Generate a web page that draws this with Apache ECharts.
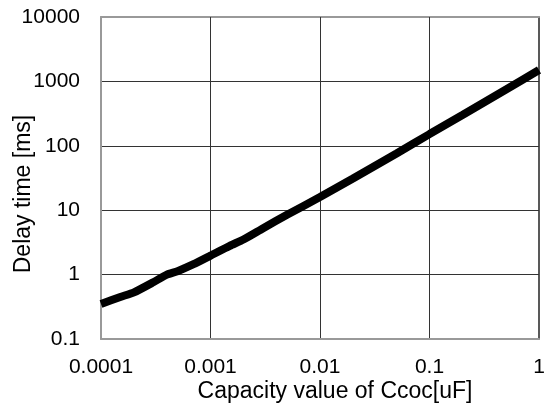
<!DOCTYPE html>
<html><head><meta charset="utf-8">
<script src="https://cdn.jsdelivr.net/npm/echarts@6/dist/echarts.min.js"></script>
<style>html,body{margin:0;padding:0;background:#fff}#c{width:547px;height:414px}</style>
</head><body><div id="c"></div>
<script>
const capacity = [0.0001, 0.00015, 0.0002, 0.0003, 0.0004, 0.0005, 0.0007, 0.001, 0.0015, 0.002, 0.003, 0.005, 0.01, 0.02, 0.05, 0.1, 0.2, 0.5, 1];
const delay    = [0.35, 0.45, 0.53, 0.76, 1.0, 1.13, 1.45, 1.97, 2.8, 3.5, 5.2, 8.5, 16, 31, 76, 152, 300, 750, 1500];
const xTickLabels = ['0.0001', '0.001', '0.01', '0.1', '1'];
const yTickLabels = ['0.1', '1', '10', '100', '1000', '10000'];
const xTitle = 'Capacity value of Ccoc[uF]';
const yTitle = 'Delay time [ms]';

const font = '"Liberation Sans", Arial, sans-serif';
function lbl(arr, start) {
  return v => { const i = Math.round(Math.log10(v)) - start; return arr[i] !== undefined ? arr[i] : ''; };
}
const chart = echarts.init(document.getElementById('c'), null, {renderer: 'canvas'});
chart.setOption({
  animation: false,
  backgroundColor: '#fff',
  grid: {left: 101, right: 8, top: 17, bottom: 75, show: false, containLabel: false, outerBoundsMode: 'none'},
  xAxis: [{
    type: 'log', logBase: 10, min: 0.0001, max: 1,
    name: xTitle, nameLocation: 'middle', nameGap: 41, nameMoveOverlap: false,
    nameTextStyle: {fontFamily: font, fontSize: 23, color: '#000', padding: [0, 0, 0, 30]},
    axisLine: {show: true, lineStyle: {color: '#999', width: 2}},
    axisTick: {show: false},
    minorTick: {show: false},
    axisLabel: {fontFamily: font, fontSize: 21, color: '#000', margin: 18, formatter: lbl(xTickLabels, -4)},
    splitLine: {show: true, showMinLine: false, showMaxLine: false, lineStyle: {color: '#333', width: 1}},
    z: 3
  }, {
    type: 'log', logBase: 10, min: 0.0001, max: 1, position: 'top',
    axisLine: {show: true, lineStyle: {color: '#999', width: 2}},
    axisTick: {show: false}, axisLabel: {show: false}, splitLine: {show: false}
  }],
  yAxis: [{
    type: 'log', logBase: 10, min: 0.1, max: 10000,
    name: yTitle, nameLocation: 'middle', nameGap: 66, nameMoveOverlap: false,
    nameTextStyle: {fontFamily: font, fontSize: 23, color: '#000', padding: [0, 32, 0, 0]},
    axisLine: {show: true, lineStyle: {color: '#999', width: 2}},
    axisTick: {show: false},
    axisLabel: {fontFamily: font, fontSize: 21, color: '#000', margin: 21, formatter: lbl(yTickLabels, -1)},
    splitLine: {show: true, showMinLine: false, showMaxLine: false, lineStyle: {color: '#333', width: 1}},
    z: 3
  }, {
    type: 'log', logBase: 10, min: 0.1, max: 10000, position: 'right',
    axisLine: {show: true, lineStyle: {color: '#222', width: 1.5}},
    axisTick: {show: false}, axisLabel: {show: false}, splitLine: {show: false}
  }],
  series: [{
    type: 'line',
    xAxisIndex: 0, yAxisIndex: 0,
    data: capacity.map((c, i) => [c, delay[i]]),
    showSymbol: false,
    smooth: 0.2,
    lineStyle: {color: '#000', width: 8},
    clip: true
  }]
});
</script></body></html>
